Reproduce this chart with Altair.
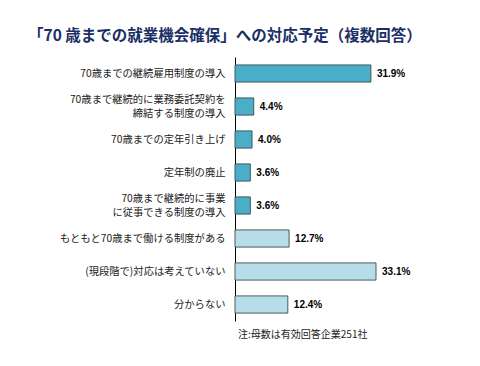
import altair as alt
import pandas as pd

categories = [
    "70歳までの継続雇用制度の導入",
    "70歳まで継続的に業務委託契約を\n締結する制度の導入",
    "70歳までの定年引き上げ",
    "定年制の廃止",
    "70歳まで継続的に事業\nに従事できる制度の導入",
    "もともと70歳まで働ける制度がある",
    "(現段階で)対応は考えていない",
    "分からない",
]
values = [31.9, 4.4, 4.0, 3.6, 3.6, 12.7, 33.1, 12.4]
groups = ["a", "a", "a", "a", "a", "b", "b", "b"]
title_text = "「70 歳までの就業機会確保」への対応予定（複数回答）"
note_text = "注:母数は有効回答企業251社"

df = pd.DataFrame({"cat": categories, "val": values, "grp": groups})
df["lab"] = df["val"].map(lambda v: f"{v:.1f}%")

W, H = 213, 264
font_jp = "Noto Sans CJK JP"

y_enc = alt.Y(
    "cat:N",
    sort=categories,
    title=None,
    scale=alt.Scale(paddingInner=0.48, paddingOuter=0.24),
    axis=alt.Axis(
        labelExpr="split(datum.label, '\\n')",
        labelFont=font_jp,
        labelFontSize=10.3,
        labelColor="#222222",
        labelPadding=10,
        labelLimit=300,
        ticks=False,
        domainColor="#000000",
        domainWidth=1,
        labelLineHeight=14.5,
        labelOffset={"condition": {"test": "indexof(datum.value, '\\n') >= 0", "value": -7}, "value": 0},
    ),
)
x_enc = alt.X("val:Q", scale=alt.Scale(domain=[0, 50]), axis=None)

bars = alt.Chart(df).mark_bar(stroke="#3a4a50", strokeWidth=0.9).encode(
    y=y_enc,
    x=x_enc,
    color=alt.Color(
        "grp:N",
        scale=alt.Scale(domain=["a", "b"], range=["#4BAEC8", "#B7DEE8"]),
        legend=None,
    ),
)

labels = alt.Chart(df).mark_text(
    align="left", dx=6, fontWeight="bold", fontSize=10, font="Liberation Sans", color="#000000"
).encode(y=alt.Y("cat:N", sort=categories), x="val:Q", text="lab:N")

note = alt.Chart(pd.DataFrame({"t": [note_text]})).mark_text(
    align="left", baseline="middle", font=font_jp, fontSize=10, color="#222222"
).encode(x=alt.value(3), y=alt.value(H + 14), text="t:N")

chart = (
    alt.layer(bars, labels, note)
    .properties(
        width=W,
        height=H,
        autosize=alt.AutoSizeParams(type="none"),
        padding={"left": 227, "top": 49, "right": 20, "bottom": 35},
        title=alt.TitleParams(
            title_text,
            anchor="start",
            frame="group",
            dx=-207,
            offset=13,
            font=font_jp,
            fontSize=15.5,
            fontWeight="bold",
            color="#1B2F66",
        ),
    )
    .configure_view(stroke=None)
)

chart.save("out.html", embed_options={"renderer": "svg", "actions": False})
